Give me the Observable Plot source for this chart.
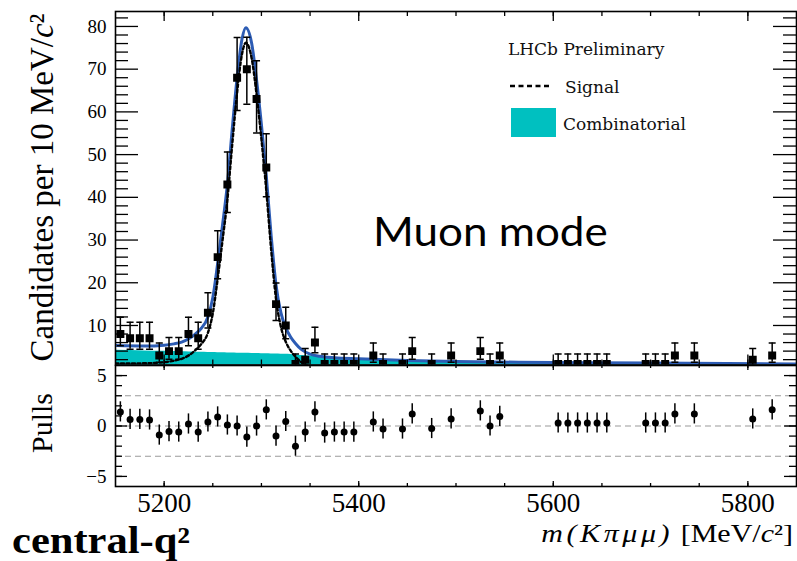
<!DOCTYPE html>
<html><head><meta charset="utf-8">
<script src="https://cdn.jsdelivr.net/npm/d3@7"></script>
<script src="https://cdn.jsdelivr.net/npm/@observablehq/plot@0.6"></script>
<style>
html,body{margin:0;padding:0;background:#fff;}
#wrap{position:relative;width:797px;height:561px;overflow:hidden;background:#fff;}
#wrap > svg{position:absolute;left:0;}
</style></head><body><div id="wrap"></div>
<script>
// ---------------- data ----------------
const binMass = [5155,5165,5175,5185,5195,5205,5215,5225,5235,5245,5255,5265,5275,5285,5295,5305,5315,5325,5335,5345,5355,5365,5375,5385,5395,5415,5425,5445,5455,5475,5495,5525,5535,5545,5605,5615,5625,5635,5645,5655,5695,5705,5715,5725,5745,5805,5825];
const binCount = [8,7,7,7,3,4,4,8,7,13,26,43,68,70,63,47,15,10,1,2,6,1,1,1,1,3,1,1,4,1,3,4,1,3,1,1,1,1,1,1,1,1,1,3,3,2,3];
const binErrLow = [5.23,4.42,4.42,4.42,1.37,2.09,2.09,5.23,4.42,9.43,20.93,36.46,60.3,61.8,55.08,40.16,11.16,6.89,0.17,0.71,3.62,0.17,0.17,0.17,0.17,1.37,0.17,0.17,2.09,0.17,1.37,2.09,0.17,1.37,0.17,0.17,0.17,0.17,0.17,0.17,0.17,0.17,0.17,1.37,1.37,0.71,1.37];
const binErrHigh = [11.95,10.77,10.77,10.77,5.92,7.16,7.16,11.95,10.77,17.69,32.17,50.61,77.4,77.5,71.98,54.91,19.97,14.27,3.30,4.64,9.58,3.30,3.30,3.30,3.30,5.92,3.30,3.30,7.16,3.30,5.92,7.16,3.30,5.92,3.30,3.30,3.30,3.30,3.30,3.30,3.30,3.30,3.30,5.92,5.92,4.64,5.92];
const pullValue = [1.4,0.65,0.65,0.6,-0.9,-0.55,-0.6,0.2,-0.6,0.4,0.9,0.1,0.0,-1.1,0.0,1.6,-1.0,0.45,-2.0,-0.6,1.4,-0.7,-0.6,-0.6,-0.6,0.4,-0.3,-0.3,1.2,-0.25,0.7,1.5,0.0,0.95,0.3,0.3,0.3,0.3,0.3,0.3,0.3,0.3,0.3,1.2,1.2,0.7,1.6];

const curveMass = [5150,5180,5200,5210,5218,5226,5232,5238,5245,5250,5255,5260,5265,5270,5275,5280,5284,5290,5295,5300,5305,5310,5315,5320,5325,5330,5335,5341,5350,5360,5375,5400,5450,5500,5600,5700,5850];
const totalFit = [5.3,5.2,5.4,5.7,6.1,7.0,8.0,9.3,12,16.5,24.5,33.5,43,56,68,77,79.7,76,67.5,57,45,31,19.5,13,9.5,7.3,5.8,4.4,3.3,2.8,2.45,2.2,1.8,1.55,1.35,1.2,1.0];
const signalFit = [1.1,1.15,1.4,1.75,2.2,3.1,4.2,5.6,8.3,12.8,20.9,29.9,39.4,52.4,64.5,73.5,76.2,72.5,64.1,53.6,41.6,27.7,16.2,9.7,6.2,4.1,2.7,1.4,0.45,0.2,0.1,0.05,0.02,0.01,0,0,0];
const combFit = [4.2,4.05,3.95,3.9,3.85,3.8,3.75,3.72,3.68,3.65,3.62,3.6,3.57,3.55,3.52,3.5,3.48,3.45,3.42,3.4,3.37,3.34,3.31,3.28,3.25,3.2,3.1,3.0,2.85,2.6,2.35,2.1,1.75,1.5,1.3,1.15,1.0];

const massMajorTicks = [5200,5400,5600,5800];
const massMinorTicks = [5200,5250,5300,5350,5400,5450,5500,5550,5600,5650,5700,5750,5800];
const countMajorTicks = [10,20,30,40,50,60,70,80];
const countMinorTicks = [2,4,6,8,12,14,16,18,22,24,26,28,32,34,36,38,42,44,46,48,52,54,56,58,62,64,66,68,72,74,76,78,82];
const pullMajorTicks = [-5,0,5];
const pullMinorTicks = [-5,-4,-3,-2,-1,0,1,2,3,4,5];
const pullRefLines = [-3,0,3];

// ---------------- tables ----------------
const bins = binMass.map((m, i) => ({m, n: binCount[i], lo: binErrLow[i], hi: binErrHigh[i], pull: pullValue[i]}));
const curves = curveMass.map((m, i) => ({m, total: totalFit[i], signal: signalFit[i], comb: combFit[i]}));

const CYAN = "#00c0c0", BLUE = "#2d5cb4";
const W = 797, ML = 115, MR = 1;
const frameW = W - ML - MR;
const TOP_H = 365, TOP_MT = 11, TOP_MB = 0.5;
const topFrameH = TOP_H - TOP_MT - TOP_MB;
const PULL_TOP = 364, PULL_H = 197, PULL_MT = 1, PULL_MB = 75;
const pullFrameH = PULL_H - PULL_MT - PULL_MB;
const SERIF = "Liberation Serif";
const fmtMinus = d => (d < 0 ? "\u2212" + Math.abs(d) : String(d));

const capSymbol = {draw(ctx, size) { const w = Math.sqrt(size / Math.PI); ctx.moveTo(-w, 0); ctx.lineTo(w, 0); }};

function tickMarks(xMinor, xMajor, xMinorLen, xMajorLen, yMinor, yMajor, yMinorLen, yMajorLen, fh) {
  const s = {stroke: "black", strokeWidth: 1.3};
  return [
    Plot.ruleX(xMinor, {x: d => d, insetTop: fh - xMinorLen, ...s}),
    Plot.ruleX(xMinor, {x: d => d, insetBottom: fh - xMinorLen, ...s}),
    Plot.ruleX(xMajor, {x: d => d, insetTop: fh - xMajorLen, ...s}),
    Plot.ruleX(xMajor, {x: d => d, insetBottom: fh - xMajorLen, ...s}),
    Plot.ruleY(yMinor, {y: d => d, insetRight: frameW - yMinorLen, ...s}),
    Plot.ruleY(yMinor, {y: d => d, insetLeft: frameW - yMinorLen, ...s}),
    Plot.ruleY(yMajor, {y: d => d, insetRight: frameW - yMajorLen, ...s}),
    Plot.ruleY(yMajor, {y: d => d, insetLeft: frameW - yMajorLen, ...s})
  ];
}

const plotStyle = "background: transparent; overflow: visible; font-family: 'Liberation Serif', serif; font-size: 19px; color: black;";

const topPlot = Plot.plot({
  width: W, height: TOP_H,
  marginLeft: ML, marginRight: MR, marginTop: TOP_MT, marginBottom: TOP_MB,
  x: {domain: [5150, 5850], axis: null},
  y: {domain: [0.75, 83.5], axis: null},
  style: plotStyle,
  marks: [
    Plot.areaY(curves, {x: "m", y: "comb", fill: CYAN, curve: "monotone-x", clip: true}),
    Plot.line(curves, {x: "m", y: "total", stroke: BLUE, strokeWidth: 3, curve: "monotone-x", clip: true}),
    Plot.line(curves, {x: "m", y: "signal", stroke: "black", strokeWidth: 2.4, strokeDasharray: "3,2.5", curve: "monotone-x", clip: true}),
    Plot.ruleX(bins, {x: "m", y1: "lo", y2: "hi", stroke: "black", strokeWidth: 1.5, clip: true}),
    Plot.dot(bins, {x: "m", y: "hi", symbol: capSymbol, r: 3.5, stroke: "black", fill: "none", strokeWidth: 1.5, clip: true}),
    Plot.dot(bins, {x: "m", y: "lo", symbol: capSymbol, r: 3.5, stroke: "black", fill: "none", strokeWidth: 1.5, clip: true}),
    Plot.dot(bins, {x: "m", y: "n", symbol: "square", r: 4.5, fill: "black", stroke: "none", clip: true}),
    ...tickMarks(massMinorTicks, massMajorTicks, 5, 10, countMinorTicks, countMajorTicks, 13, 23, topFrameH),
    Plot.frame({stroke: "black", strokeWidth: 1.6}),
    Plot.text(countMajorTicks, {y: d => d, text: d => String(d), frameAnchor: "left", dx: -9, textAnchor: "end", fontFamily: SERIF, fontSize: 19, fill: "black"})
  ]
});
topPlot.style.top = "0px";

const pullPlot = Plot.plot({
  width: W, height: PULL_H,
  marginLeft: ML, marginRight: MR, marginTop: PULL_MT, marginBottom: PULL_MB,
  x: {domain: [5150, 5850], axis: null},
  y: {domain: [-6, 6], axis: null},
  style: plotStyle,
  marks: [
    Plot.ruleY(pullRefLines, {y: d => d, stroke: "#9a9a9a", strokeWidth: 1.2, strokeDasharray: "6,4"}),
    Plot.ruleX(bins, {x: "m", y1: d => d.pull - 1, y2: d => d.pull + 1, stroke: "black", strokeWidth: 1.5}),
    Plot.dot(bins, {x: "m", y: "pull", r: 3.5, fill: "black", stroke: "none"}),
    ...tickMarks(massMinorTicks, massMajorTicks, 3, 5, pullMinorTicks, pullMajorTicks, 7, 12, pullFrameH),
    Plot.frame({stroke: "black", strokeWidth: 1.6}),
    Plot.text(pullMajorTicks, {y: d => d, text: fmtMinus, frameAnchor: "left", dx: -9, textAnchor: "end", fontFamily: SERIF, fontSize: 19, fill: "black"}),
    Plot.text(massMajorTicks, {x: d => d, text: d => String(d), frameAnchor: "bottom", dy: 6, lineAnchor: "top", fontFamily: SERIF, fontSize: 27, fill: "black"})
  ]
});
pullPlot.style.top = PULL_TOP + "px";

const wrap = document.getElementById("wrap");
wrap.appendChild(topPlot);
wrap.appendChild(pullPlot);

// ---------------- titles, labels and legend ----------------
const NS = "http://www.w3.org/2000/svg";
const overlay = document.createElementNS(NS, "svg");
overlay.setAttribute("width", W); overlay.setAttribute("height", 561);
overlay.style.top = "0px"; overlay.style.pointerEvents = "none";
overlay.innerHTML = `
<g font-family="'Liberation Serif', serif" fill="black">
  <text transform="translate(53,187.5) rotate(-90)" text-anchor="middle" font-size="33">Candidates per 10 MeV/<tspan font-style="italic">c</tspan>²</text>
  <text transform="translate(52,423) rotate(-90)" text-anchor="middle" font-size="30">Pulls</text>
  <text transform="translate(793,542) scale(1.2,1)" text-anchor="end" font-size="25"><tspan font-style="italic" letter-spacing="3">m(Kπμμ)</tspan> [MeV/<tspan font-style="italic">c</tspan>²]</text>
  <text transform="translate(12,553) scale(1.15,1)" font-weight="bold" font-size="37">central-q²</text>
</g>
<text transform="translate(373,246) scale(1.1,1)" font-family="Lato, 'Open Sans', sans-serif" font-size="40" fill="black">Muon mode</text>
<g font-family="'DejaVu Serif', serif" font-size="17" fill="#111">
  <text x="508" y="55">LHCb Preliminary</text>
  <line x1="510" x2="552" y1="86" y2="86" stroke="black" stroke-width="2.5" stroke-dasharray="5,3.5"></line>
  <text x="565" y="93">Signal</text>
  <rect x="511" y="108" width="45" height="29" fill="${CYAN}"></rect>
  <text x="563" y="130">Combinatorial</text>
</g>`;
wrap.appendChild(overlay);
</script>
</body></html>
